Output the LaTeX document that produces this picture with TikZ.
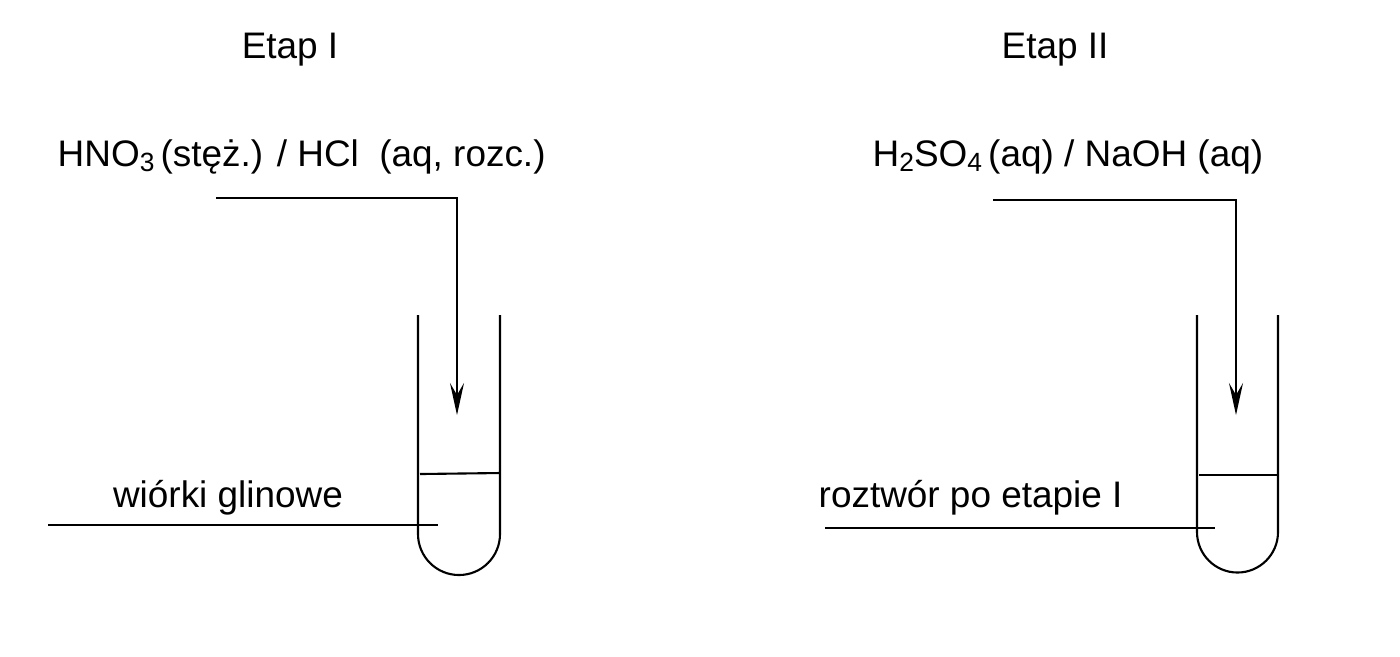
\documentclass[tikz,border=0pt]{standalone}
\usepackage{fontspec}
\setmainfont{Liberation Sans}
\usetikzlibrary{arrows.meta}
\newcommand{\ind}[1]{\raisebox{-0.25ex}{\fontsize{7.5}{8}\selectfont #1}}
\tikzset{>={Stealth[length=3.2mm,width=1.4mm,inset=1.2mm]},
  lbl/.style={inner sep=0pt,font=\fontsize{10.5}{12}\selectfont},
  line/.style={line width=0.6pt}}
\begin{document}
\begin{tikzpicture}[x=0.01cm,y=-0.01cm]
      \useasboundingbox (0,0) rectangle (1400,656);
      % Etap I
      \node[lbl] (etap1) at (290,50) {Etap I};
      \node[lbl,anchor=west] (reag1) at (57,157) {HNO\ind{3}\,(stęż.) / HCl\ \ (aq, rozc.)};
      \node[lbl] (sub1) at (228,498) {wiórki glinowe};
      \draw[line] (418,315)--(418,534) arc[start angle=180,end angle=0,radius=41]--(500,315);
      \draw[line] (420,474)--(500,473);
      \coordinate (in1) at (216,198);
      \coordinate (tip1) at (457,415);
      \draw[line,->] (in1)-|(tip1);
      \coordinate (p1) at (48,525);
      \coordinate (q1) at (438,525);
      \draw[line] (p1)--(q1);

      % Etap II
      \node[lbl] (etap2) at (1055,50) {Etap II};
      \node[lbl,anchor=west] (reag2) at (872,157) {H\ind{2}SO\ind{4}\,(aq) / NaOH (aq)};
      \node[lbl,anchor=west] (sub2) at (818,498) {roztwór po etapie I};
      \draw[line] (1197,315)--(1197,532) arc[start angle=180,end angle=0,radius=40.5]--(1278,315);
      \draw[line] (1199,475)--(1278,475);
      \coordinate (in2) at (993,200);
      \coordinate (tip2) at (1236,415);
      \draw[line,->] (in2)-|(tip2);
      \coordinate (p2) at (825,528);
      \coordinate (q2) at (1215,528);
      \draw[line] (p2)--(q2);
\end{tikzpicture}
\end{document}
